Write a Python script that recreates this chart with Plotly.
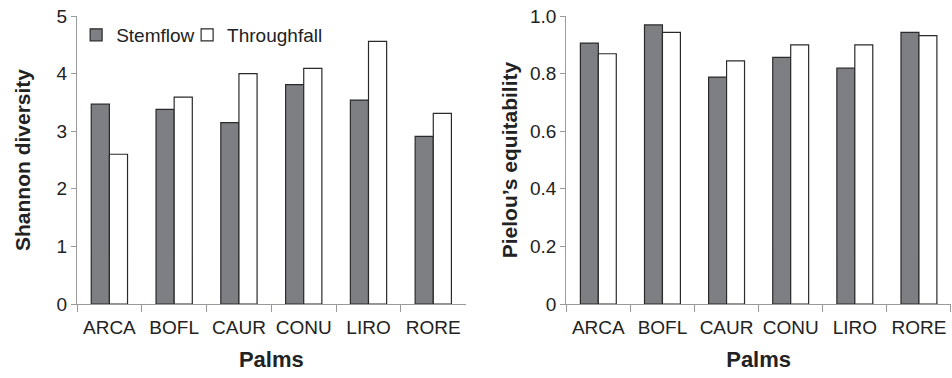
import plotly.graph_objects as go
from plotly.subplots import make_subplots

palms = ["ARCA", "BOFL", "CAUR", "CONU", "LIRO", "RORE"]
shannon_stemflow = [3.47, 3.38, 3.15, 3.81, 3.54, 2.91]
shannon_throughfall = [2.60, 3.59, 4.00, 4.09, 4.56, 3.31]
pielou_stemflow = [0.906, 0.969, 0.788, 0.856, 0.819, 0.943]
pielou_throughfall = [0.869, 0.943, 0.844, 0.900, 0.900, 0.932]
shannon_ticks = [0, 1, 2, 3, 4, 5]
pielou_ticks = [0, 0.2, 0.4, 0.6, 0.8, 1.0]
pielou_ticktext = ["0", "0.2", "0.4", "0.6", "0.8", "1.0"]

STEM = "#7e7f83"
EDGE = "#2a2a2a"
AX = "#9a9a9a"
TXT = "#222222"
FONT = "Liberation Sans, Arial, sans-serif"

fig = make_subplots(rows=1, cols=2, horizontal_spacing=0.115)

for col, (s, t) in enumerate([(shannon_stemflow, shannon_throughfall),
                              (pielou_stemflow, pielou_throughfall)], start=1):
    fig.add_trace(go.Bar(x=palms, y=s, name="Stemflow", legend="legend",
                         marker=dict(color=STEM, line=dict(color=EDGE, width=1.2)),
                         showlegend=(col == 1)), row=1, col=col)
    fig.add_trace(go.Bar(x=palms, y=t, name="Throughfall", legend="legend2",
                         marker=dict(color="white", line=dict(color=EDGE, width=1.2)),
                         showlegend=(col == 1)), row=1, col=col)

xcommon = dict(showline=True, linecolor=AX, linewidth=1.2, ticks="outside",
               tickson="boundaries", ticklen=7, tickcolor=AX, tickwidth=1.2,
               showgrid=False, zeroline=False, tickangle=0, ticklabelstandoff=6,
               tickfont=dict(size=19, color=TXT, family=FONT),
               title=dict(text="<b>Palms</b>", font=dict(size=22, color=TXT, family=FONT), standoff=14))
fig.update_xaxes(**xcommon)

ycommon = dict(showline=True, linecolor=AX, linewidth=1.2, ticks="outside",
               ticklen=5, tickcolor=AX, tickwidth=1.2, showgrid=False, zeroline=False,
               tickfont=dict(size=19, color=TXT, family=FONT))
fig.update_yaxes(**ycommon)
fig.update_yaxes(range=[0, 5], tickvals=shannon_ticks,
                 title=dict(text="<b>Shannon diversity</b>", font=dict(size=21, color=TXT, family=FONT), standoff=20),
                 row=1, col=1)
fig.update_yaxes(range=[0, 1], tickvals=pielou_ticks, ticktext=pielou_ticktext,
                 title=dict(text="<b>Pielou’s equitability</b>", font=dict(size=21, color=TXT, family=FONT), standoff=6),
                 row=1, col=2)

legend_style = dict(orientation="h", y=1.0, xanchor="left", yanchor="top",
                    font=dict(size=19, color=TXT, family=FONT), bgcolor="rgba(0,0,0,0)",
                    itemwidth=30)
fig.update_layout(
    width=952, height=378,
    margin=dict(l=77, r=1, t=16, b=74),
    barmode="group", bargap=0.44, bargroupgap=0,
    plot_bgcolor="white", paper_bgcolor="white",
    font=dict(family=FONT, color=TXT, size=19),
    legend=dict(x=-0.001, **legend_style),
    legend2=dict(x=0.126, **legend_style),
)
fig.update_layout(xaxis=dict(domain=[0, 0.4447]), xaxis2=dict(domain=[0.5598, 1.0]))

fig.write_html("out.html", config={"displayModeBar": False},
               post_script="document.body.style.margin='0';document.body.style.overflow='hidden';")
